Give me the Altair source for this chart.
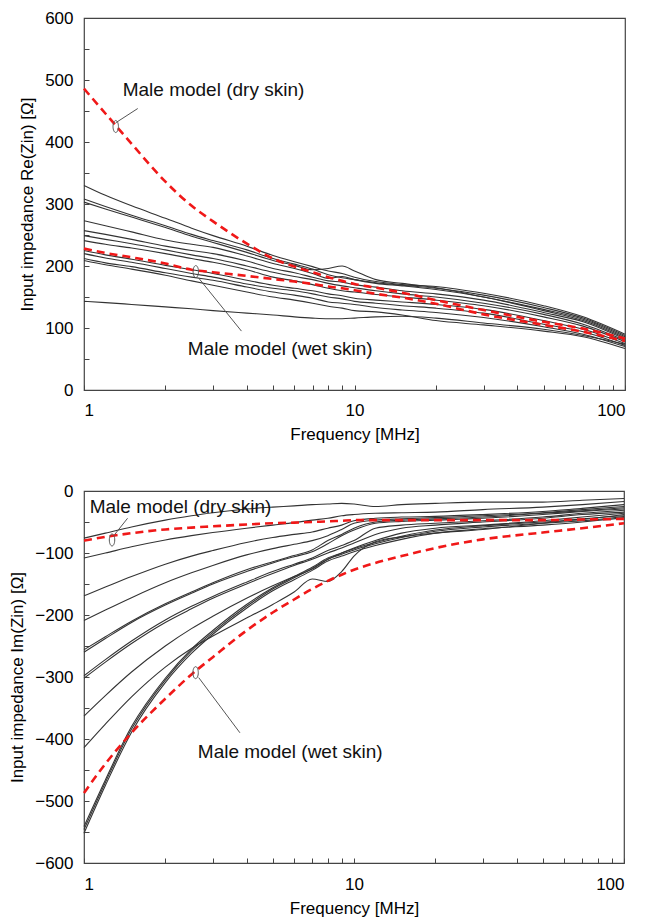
import altair as alt
import pandas as pd

FONT = "Liberation Sans"

FREQ = [1, 1.2, 1.5, 2, 2.5, 3, 4, 5, 6, 7, 8, 9, 10, 12, 15, 20, 30, 50, 70, 100]

# ---- Real part (top panel), black curves ----
RE_A = [330, 314, 297, 277, 261, 249, 232, 217, 207, 199, 192, 188, 182, 175, 170, 167, 156, 136, 118, 90]
RE_B = [308, 296, 282, 265, 251, 241, 226, 212, 203, 195, 186, 181, 178, 173, 169, 164, 153, 133, 116, 88]
RE_C = [303, 292, 279, 262, 248, 238, 222, 209, 201, 194, 196, 200, 192, 178, 172, 165, 150, 130, 114, 86]
RE_D = [273, 265, 255, 242, 235, 230, 216, 204, 196, 188, 180, 183, 178, 172, 168, 162, 150, 128, 112, 84]
RE_E = [257, 251, 243, 232, 225, 220, 208, 196, 189, 182, 176, 174, 170, 166, 160, 155, 145, 125, 110, 82]
RE_F = [249, 243, 236, 226, 218, 212, 200, 190, 183, 178, 172, 168, 165, 160, 155, 150, 140, 122, 106, 80]
RE_G = [241, 235, 229, 220, 212, 206, 194, 182, 176, 170, 164, 160, 158, 154, 150, 145, 136, 118, 103, 78]
RE_H = [225, 218, 211, 201, 194, 188, 177, 169, 164, 160, 155, 152, 148, 145, 142, 138, 130, 112, 98, 75]
RE_I = [220, 213, 206, 196, 188, 182, 171, 164, 160, 155, 150, 147, 143, 140, 136, 132, 124, 106, 94, 72]
RE_J = [212, 205, 199, 189, 182, 177, 166, 158, 153, 148, 142, 140, 138, 133, 129, 125, 117, 102, 90, 70]
RE_K = [209, 202, 195, 185, 176, 169, 158, 150, 145, 140, 135, 132, 128, 126, 121, 112, 105, 95, 86, 67]
RE_L = [143, 141, 138, 134, 131, 128, 124, 121, 118, 116, 115, 115, 116, 118, 119, 116, 108, 98, 88, 74]
RE_BLACK = [RE_A, RE_B, RE_C, RE_D, RE_E, RE_F, RE_G, RE_H, RE_I, RE_J, RE_K, RE_L]

RE_DRY = [486, 446, 397, 336, 297, 272, 236, 212, 199, 190, 182, 176, 171, 165, 157, 145, 129, 110, 99, 83]
RE_WET = [228, 221, 214, 204, 194, 190, 184, 179, 175, 171, 167, 164, 161, 155, 149, 139, 122, 105, 94, 79]

# ---- Imaginary part (bottom panel), black curves ----
IM_1 = [-76, -68, -58, -47, -40, -35, -29, -26, -24, -22, -21, -20, -21, -25, -22, -20, -18, -18, -15, -12]
IM_2 = [-108, -100, -90, -79, -72, -67, -60, -55, -51, -47, -44, -40, -38, -36, -35, -34, -30, -26, -22, -17]
IM_3 = [-169, -155, -138, -118, -105, -96, -83, -75, -70, -66, -60, -55, -48, -44, -42, -41, -38, -33, -28, -22]
IM_4 = [-209, -192, -172, -148, -132, -120, -103, -93, -86, -80, -72, -62, -52, -47, -45, -43, -40, -35, -30, -25]
IM_5 = [-256, -235, -210, -182, -163, -148, -127, -114, -104, -95, -80, -70, -60, -50, -47, -45, -42, -36, -32, -27]
IM_6 = [-260, -238, -212, -184, -165, -150, -130, -116, -106, -98, -85, -72, -63, -52, -49, -47, -44, -38, -33, -29]
IM_7 = [-298, -272, -242, -208, -186, -170, -147, -130, -118, -108, -96, -88, -80, -60, -55, -52, -48, -42, -36, -31]
IM_8 = [-302, -276, -246, -212, -190, -173, -150, -133, -120, -110, -100, -92, -84, -70, -60, -55, -50, -44, -38, -34]
IM_9 = [-363, -330, -292, -250, -222, -202, -173, -153, -138, -126, -110, -100, -92, -80, -68, -60, -55, -48, -42, -36]
IM_10 = [-414, -376, -332, -284, -254, -234, -205, -183, -163, -142, -146, -130, -105, -82, -74, -68, -62, -52, -45, -40]
IM_11 = [-541, -466, -380, -302, -255, -225, -183, -156, -138, -123, -108, -100, -93, -83, -73, -63, -56, -50, -46, -38]
IM_12 = [-546, -470, -384, -305, -258, -228, -186, -158, -140, -125, -110, -102, -95, -85, -75, -65, -58, -52, -48, -41]
IM_13 = [-552, -475, -389, -309, -262, -231, -189, -161, -143, -128, -113, -105, -98, -88, -78, -68, -61, -55, -50, -43]
IM_BLACK = [IM_1, IM_2, IM_3, IM_4, IM_5, IM_6, IM_7, IM_8, IM_9, IM_10, IM_11, IM_12, IM_13]

IM_DRY = [-80, -74, -68, -62, -59, -57, -54, -52, -51, -50, -49, -48, -47, -47, -47, -47, -47, -47, -46, -45]
IM_WET = [-487, -440, -390, -335, -296, -268, -225, -196, -175, -158, -145, -135, -127, -116, -105, -92, -78, -67, -60, -52]

# ---- axis ticks ----
X_TICKS = [1, 2, 3, 4, 5, 6, 7, 8, 9, 10, 20, 30, 40, 50, 60, 70, 80, 90, 100]
RE_TICKS = list(range(0, 601, 50))
IM_TICKS = list(range(-600, 1, 50))

# ---- annotations ----
RE_TEXT = ["Male model (dry skin)", "Male model (wet skin)"]
RE_TEXT_F = [1.39, 2.42]
RE_TEXT_V = [484, 66]
RE_ELL_F = [1.31, 2.59]
RE_ELL_V = [425, 191]
RE_LEAD_F1 = [1.31, 2.66]
RE_LEAD_V1 = [431, 180]
RE_LEAD_F2 = [1.58, 3.82]
RE_LEAD_V2 = [454, 95]

IM_TEXT = ["Male model (dry skin)", "Male model (wet skin)"]
IM_TEXT_F = [1.05, 2.64]
IM_TEXT_V = [-26, -421]
IM_ELL_F = [1.27, 2.59]
IM_ELL_V = [-79, -293]
IM_LEAD_F1 = [1.30, 2.66]
IM_LEAD_V1 = [-70, -301]
IM_LEAD_F2 = [1.45, 3.78]
IM_LEAD_V2 = [-44, -390]

ELLIPSE = ("M0,-1 C0.25,-1 0.45,-0.55 0.45,0 C0.45,0.55 0.25,1 0,1 "
           "C-0.25,1 -0.45,0.55 -0.45,0 C-0.45,-0.55 -0.25,-1 0,-1 Z")


def long_df(curves):
    rows = []
    for i, c in enumerate(curves):
        for f, v in zip(FREQ, c):
            rows.append({"f": f, "v": v, "s": f"c{i}"})
    return pd.DataFrame(rows)


def panel(black, dry, wet, ydom, yticks, ytitle, texts, tf, tv, ef, ev, lf1, lv1, lf2, lv2,
          width, height, xlabpad, xtitlepad):
    common = dict(labelFont=FONT, titleFont=FONT, labelFontSize=17, titleFontSize=17,
                  titleFontWeight="normal", labelColor="#000", titleColor="#000",
                  tickSize=5, offset=-5, domain=False, grid=False, tickColor="#444")
    x = alt.X("f:Q", scale=alt.Scale(type="log", domain=[1, 100], nice=False),
              axis=alt.Axis(values=X_TICKS, title="Frequency [MHz]",
                            labelExpr="(datum.value==1||datum.value==10||datum.value==100) ? format(datum.value,'d') : ''",
                            labelPadding=xlabpad, titlePadding=xtitlepad, **common))
    y = alt.Y("v:Q", scale=alt.Scale(domain=ydom, nice=False, zero=False),
              axis=alt.Axis(values=yticks, title=ytitle,
                            labelExpr="datum.value % 100 == 0 ? format(datum.value,'d') : ''",
                            labelPadding=11, titlePadding=8, **common))
    blk = alt.Chart(long_df(black)).mark_line(
        color="#333333", strokeWidth=1.1, interpolate="monotone"
    ).encode(x=x, y=y, detail="s:N")
    red = alt.Chart(long_df([dry, wet])).mark_line(
        color="#f01818", strokeWidth=2.6, strokeDash=[8, 5], interpolate="monotone"
    ).encode(x=x, y=y, detail="s:N")
    tdf = pd.DataFrame({"f": tf, "v": tv, "t": texts})
    txt = alt.Chart(tdf).mark_text(
        align="left", baseline="middle", fontSize=19, font=FONT, color="#111"
    ).encode(x=x, y=y, text="t:N")
    ldf = pd.DataFrame({"f": lf1, "v": lv1, "f2": lf2, "v2": lv2})
    lead = alt.Chart(ldf).mark_rule(color="#555", strokeWidth=1).encode(
        x=x, y=y, x2="f2:Q", y2="v2:Q")
    edf = pd.DataFrame({"f": ef, "v": ev})
    ell = alt.Chart(edf).mark_point(
        shape=ELLIPSE, size=144, filled=False, stroke="#555", strokeWidth=1, opacity=1
    ).encode(x=x, y=y)
    return alt.layer(blk, red, lead, ell, txt).properties(width=width, height=height)


top = panel(RE_BLACK, RE_DRY, RE_WET, [0, 600], RE_TICKS, "Input impedance Re(Zin) [Ω]",
            RE_TEXT, RE_TEXT_F, RE_TEXT_V, RE_ELL_F, RE_ELL_V,
            RE_LEAD_F1, RE_LEAD_V1, RE_LEAD_F2, RE_LEAD_V2, 541, 372, 12, 8)
bottom = panel(IM_BLACK, IM_DRY, IM_WET, [-600, 0], IM_TICKS, "Input impedance Im(Zin) [Ω]",
               IM_TEXT, IM_TEXT_F, IM_TEXT_V, IM_ELL_F, IM_ELL_V,
               IM_LEAD_F1, IM_LEAD_V1, IM_LEAD_F2, IM_LEAD_V2, 540, 372, 13, 8)

chart = alt.vconcat(top, bottom, spacing=38).properties(
    padding={"left": 0, "top": 0, "right": 5, "bottom": 0},
    background="white"
).configure_view(
    stroke="#444", strokeWidth=1.2
)

chart.save("out.html", embed_options={"renderer": "svg", "actions": False})
